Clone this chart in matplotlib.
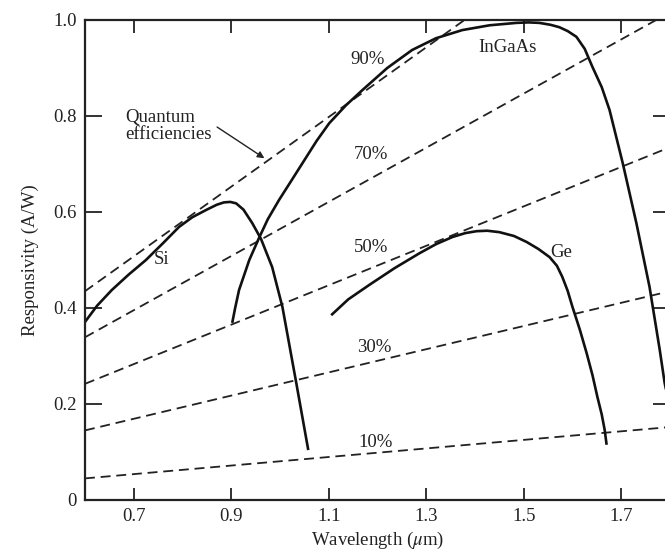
import matplotlib
matplotlib.use("Agg")
import matplotlib.pyplot as plt

# ---- data ----
si_wl = [0.600, 0.625, 0.655, 0.690, 0.725, 0.760, 0.793, 0.820, 0.848, 0.870, 0.885, 0.898,
         0.910, 0.925, 0.943, 0.961, 0.984, 1.005, 1.033, 1.058]
si_r = [0.371, 0.405, 0.4375, 0.470, 0.500, 0.535, 0.569, 0.589, 0.604, 0.615, 0.620, 0.621,
        0.618, 0.605, 0.577, 0.544, 0.485, 0.402, 0.246, 0.104]

ingaas_wl = [0.902, 0.908, 0.916, 0.937, 0.957, 0.975, 0.998, 1.025, 1.050, 1.075, 1.101, 1.135,
             1.169, 1.220, 1.271, 1.320, 1.374, 1.430, 1.485, 1.510, 1.532, 1.555, 1.573, 1.590,
             1.608, 1.625, 1.641, 1.660, 1.676, 1.703, 1.731, 1.758, 1.779, 1.789, 1.800]
ingaas_r = [0.369, 0.400, 0.4375, 0.500, 0.546, 0.585, 0.625, 0.668, 0.708, 0.748, 0.785, 0.822,
            0.854, 0.900, 0.9375, 0.962, 0.979, 0.989, 0.994, 0.995, 0.994, 0.990, 0.985, 0.977,
            0.965, 0.940, 0.902, 0.860, 0.8125, 0.702, 0.577, 0.444, 0.3125, 0.244, 0.190]

ge_wl = [1.105, 1.140, 1.183, 1.235, 1.286, 1.320, 1.354, 1.380, 1.403, 1.425, 1.450, 1.480,
         1.506, 1.530, 1.553, 1.568, 1.579, 1.590, 1.600, 1.615, 1.629, 1.641, 1.651, 1.660,
         1.666, 1.670]
ge_r = [0.385, 0.418, 0.448, 0.483, 0.514, 0.533, 0.548, 0.556, 0.560, 0.561, 0.558, 0.550,
        0.5375, 0.523, 0.506, 0.488, 0.465, 0.436, 0.402, 0.355, 0.306, 0.260, 0.215, 0.178,
        0.146, 0.115]

qe_labels = ["90%", "70%", "50%", "30%", "10%"]
qe_wl = [0.6, 1.8]
qe_r_start = [0.435, 0.339, 0.242, 0.145, 0.045]
qe_r_end = [1.306, 1.016, 0.735, 0.435, 0.152]

x_ticks = [0.7, 0.9, 1.1, 1.3, 1.5, 1.7]
x_ticklabels = ["0.7", "0.9", "1.1", "1.3", "1.5", "1.7"]
y_ticks = [0.0, 0.2, 0.4, 0.6, 0.8, 1.0]
y_ticklabels = ["0", "0.2", "0.4", "0.6", "0.8", "1.0"]

# ---- figure ----
plt.rcParams['font.family'] = ['Liberation Serif', 'DejaVu Serif']
plt.rcParams['mathtext.fontset'] = 'stix'
FS = 13.5
INK = '#222222'

fig = plt.figure(figsize=(6.65, 5.5), dpi=100)
ax = fig.add_axes([85 / 665, 50 / 550, (670 - 85) / 665, 480 / 550])
ax.set_xlim(0.6, 1.8)
ax.set_ylim(0.0, 1.0)

for r0, r1 in zip(qe_r_start, qe_r_end):
    ax.plot(qe_wl, [r0, r1], color=INK, lw=1.3, linestyle=(0, (5.5, 3.2)))

for wl, r in [(si_wl, si_r), (ingaas_wl, ingaas_r), (ge_wl, ge_r)]:
    ax.plot(wl, r, color='#111111', lw=1.9, solid_capstyle='butt', solid_joinstyle='round')

txt = dict(fontsize=FS, color=INK, ha='center', va='center')
ax.text(0.758, 0.500, "Si", **txt)
ax.text(1.467, 0.942, "InGaAs", **txt)
ax.text(1.577, 0.515, "Ge", **txt)
label_pos = [(1.179, 0.917), (1.187, 0.719), (1.187, 0.525), (1.193, 0.317), (1.197, 0.119)]
for lab, (x, y) in zip(qe_labels, label_pos):
    ax.text(x, y, lab, **txt)

ax.text(0.682, 0.779, "Quantum\nefficiencies", fontsize=FS, color=INK,
        ha='left', va='center', linespacing=1.0)
ax.annotate("", xy=(0.968, 0.712), xytext=(0.871, 0.777),
            arrowprops=dict(arrowstyle='-|>', color=INK, lw=1.0,
                            mutation_scale=10, shrinkA=0, shrinkB=0))

ax.set_xticks(x_ticks)
ax.set_xticklabels(x_ticklabels)
ax.set_yticks(y_ticks)
ax.set_yticklabels(y_ticklabels)
ax.tick_params(axis='x', direction='in', length=9, width=1.3, top=True, bottom=True,
               labelsize=FS, pad=6, colors=INK)
ax.tick_params(axis='y', direction='in', length=12, width=1.3, left=True, right=True,
               labelsize=FS, pad=6, colors=INK)
for s in ax.spines.values():
    s.set_linewidth(1.6)
    s.set_color(INK)

ax.set_xlabel("Wavelength ($\\mu$m)", fontsize=FS, color=INK, labelpad=3)
ax.set_ylabel("Responsivity (A/W)", fontsize=FS, color=INK, labelpad=10)

fig.savefig("out.png", dpi=100)
